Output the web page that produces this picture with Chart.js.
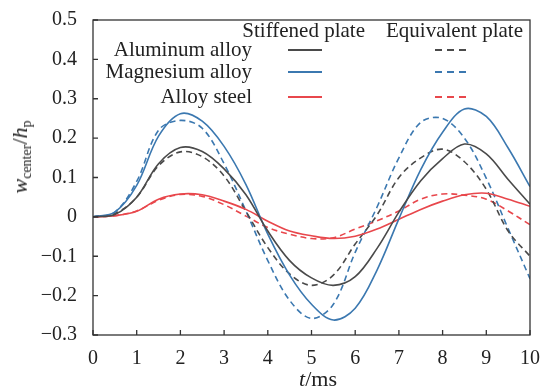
<!DOCTYPE html>
<html>
<head>
<meta charset="utf-8">
<script src="https://cdn.jsdelivr.net/npm/chart.js@4.4.1/dist/chart.umd.min.js"></script>
<style>
  body { margin: 0; background: #fff; }
  #wrap { position: relative; width: 544px; height: 389px; }
  .ttl { position: absolute; font-family: "Liberation Serif", "Times New Roman", serif; font-size: 22px; font-weight: normal; color: #222; white-space: nowrap; }
  .ttl sub { font-size: 14px; vertical-align: -4px; line-height: 0; }
  #ytitle { left: 20px; top: 157px; transform: translate(-50%, -50%) rotate(-90deg); }
  #xtitle { left: 318px; top: 379px; transform: translate(-50%, -50%); }
</style>
</head>
<body>
<div id="wrap">
  <canvas id="chart" width="544" height="389"></canvas>
  <div class="ttl" id="ytitle"><i>w</i><sub>center</sub>/<i>h</i><sub>p</sub></div>
  <div class="ttl" id="xtitle"><i>t</i>/ms</div>
</div>
<script>
document.addEventListener("DOMContentLoaded", () => {

    const times = [0, 0.5, 1, 1.5, 2, 2.5, 3, 3.5, 4, 4.5, 5, 5.5, 6, 6.5, 7, 7.5, 8, 8.5, 9, 9.5, 10];

    // stiffened plate
    const aluStiff = [0, 0.006, 0.05, 0.135, 0.176, 0.166, 0.122, 0.056, -0.036, -0.111, -0.155, -0.174, -0.152, -0.08, 0.012, 0.092, 0.148, 0.185, 0.16, 0.095, 0.032];
    const magStiff = [0, 0.012, 0.08, 0.205, 0.262, 0.243, 0.179, 0.082, -0.044, -0.148, -0.222, -0.262, -0.232, -0.135, -0.005, 0.12, 0.215, 0.274, 0.255, 0.175, 0.077];
    const steelStiff = [0, 0.003, 0.014, 0.045, 0.058, 0.056, 0.04, 0.019, -0.011, -0.036, -0.048, -0.055, -0.049, -0.031, -0.006, 0.019, 0.04, 0.056, 0.06, 0.045, 0.027];

    // equivalent plate
    const aluEquiv = [0, 0.008, 0.05, 0.13, 0.165, 0.153, 0.104, 0.014, -0.078, -0.145, -0.174, -0.148, -0.069, 0.005, 0.1, 0.15, 0.172, 0.14, 0.07, -0.036, -0.1];
    const magEquiv = [0, 0.012, 0.09, 0.22, 0.245, 0.225, 0.135, 0.015, -0.111, -0.212, -0.258, -0.222, -0.09, 0.025, 0.15, 0.24, 0.25, 0.2, 0.098, -0.03, -0.157];
    const steelEquiv = [0, 0.003, 0.015, 0.042, 0.057, 0.052, 0.031, 0.002, -0.027, -0.044, -0.055, -0.053, -0.031, -0.01, 0.015, 0.045, 0.058, 0.055, 0.045, 0.015, -0.02];

    const materials = ["Aluminum alloy", "Magnesium alloy", "Alloy steel"];
    const colors = ["#4a4a4a", "#3b78b0", "#e8474c"];

    const yTicks = [0.5, 0.4, 0.3, 0.2, 0.1, 0, -0.1, -0.2, -0.3];
    const xTicks = [0, 1, 2, 3, 4, 5, 6, 7, 8, 9, 10];

    const pts = arr => arr.map((v, i) => ({ x: times[i], y: v }));
    const line = (data, color, dashed) => ({
        data: pts(data),
        borderColor: color,
        borderWidth: 1.6,
        borderDash: dashed ? [6, 4] : [],
        pointRadius: 0,
        tension: 0.35,
        fill: false
    });

    const font = { family: "'Liberation Serif', 'Times New Roman', serif", size: 20 };

    // box, inward ticks and the two-column legend
    const decor = {
        id: "decor",
        afterDraw(chart) {
            const c = chart.ctx, a = chart.chartArea;
            const xs = chart.scales.x, ys = chart.scales.y;
            c.save();
            c.strokeStyle = "#333";
            c.lineWidth = 1.3;
            c.strokeRect(a.left, a.top, a.right - a.left, a.bottom - a.top);
            c.beginPath();
            yTicks.forEach(v => {
                const y = ys.getPixelForValue(v);
                c.moveTo(a.left, y); c.lineTo(a.left + 5, y);
            });
            xTicks.forEach(v => {
                const x = xs.getPixelForValue(v);
                c.moveTo(x, a.bottom); c.lineTo(x, a.bottom - 5);
            });
            c.stroke();

            c.font = "21px 'Liberation Serif', serif";
            c.fillStyle = "#222";
            c.textBaseline = "middle";
            c.textAlign = "right";
            c.fillText("Stiffened plate", 365, 31);
            c.fillText("Equivalent plate", 523, 31);
            const rowY = [50, 72, 97];
            materials.forEach((m, i) => {
                c.fillText(m, 252, rowY[i]);
                c.strokeStyle = colors[i];
                c.lineWidth = 1.8;
                c.setLineDash([]);
                c.beginPath(); c.moveTo(288, rowY[i]); c.lineTo(322, rowY[i]); c.stroke();
                c.setLineDash([7, 5]);
                c.beginPath(); c.moveTo(435, rowY[i]); c.lineTo(471, rowY[i]); c.stroke();
            });
            c.restore();
        }
    };

    new Chart(document.getElementById("chart"), {
        type: "line",
        data: {
            datasets: [
                line(aluStiff, colors[0], false),
                line(magStiff, colors[1], false),
                line(steelStiff, colors[2], false),
                line(aluEquiv, colors[0], true),
                line(magEquiv, colors[1], true),
                line(steelEquiv, colors[2], true)
            ]
        },
        options: {
            responsive: false,
            animation: false,
            layout: { padding: { top: 17, right: 12, left: 0, bottom: 0 } },
            plugins: { legend: { display: false }, tooltip: { enabled: false } },
            scales: {
                x: {
                    type: "linear",
                    min: 0, max: 10,
                    grid: { display: false },
                    border: { display: false },
                    afterBuildTicks: s => { s.ticks = xTicks.map(v => ({ value: v })); },
                    afterFit: s => { s.height = 54; },
                    ticks: { color: "#222", font: font, padding: 4, maxRotation: 0 }
                },
                y: {
                    min: -0.3, max: 0.5,
                    grid: { display: false },
                    border: { display: false },
                    afterBuildTicks: s => { s.ticks = yTicks.map(v => ({ value: v })); },
                    afterFit: s => { s.width = 93; },
                    ticks: {
                        color: "#222", font: font, padding: 8,
                        callback: v => v < 0 ? "\u2212" + Math.abs(v).toFixed(1) : (v === 0 ? "0" : v.toFixed(1))
                    }
                }
            }
        },
        plugins: [decor]
    });

});
</script>
</body>
</html>
